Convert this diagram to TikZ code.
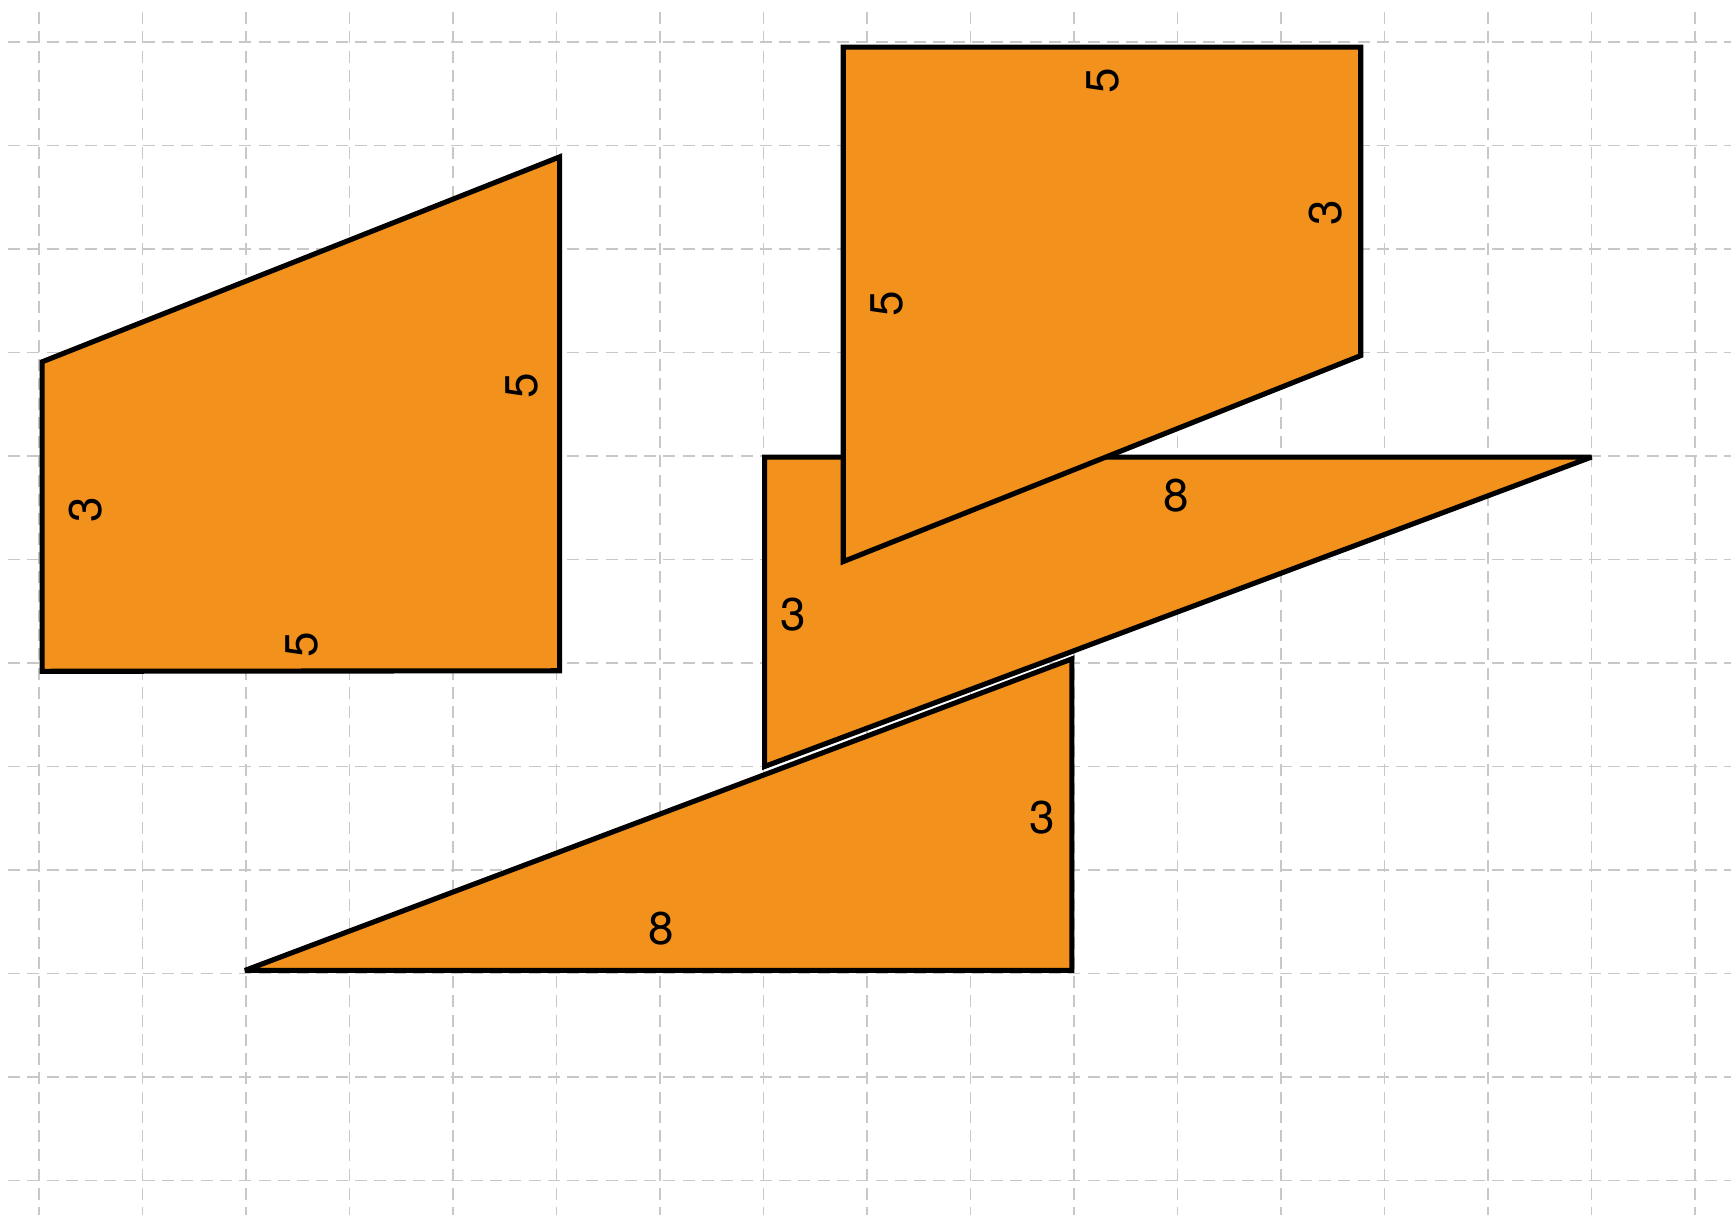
\documentclass[tikz,border=0pt]{standalone}
\usepackage{fontspec}
\setmainfont{TeX Gyre Heros}
\definecolor{shapeorange}{RGB}{242,145,27}
\definecolor{gridgray}{RGB}{200,200,200}
\begin{document}
\begin{tikzpicture}[x=1cm,y=-1cm,
  gridline/.style={draw=gridgray,line width=0.5pt,dash pattern=on 3.3pt off 2pt},
  piece/.style={fill=shapeorange,draw=black,line width=1.4pt,miter limit=2},
  lab/.style={inner sep=0pt,font=\fontsize{12.6}{15}\selectfont},
  vlab/.style={lab,rotate=90}]
\useasboundingbox (-0.377,-0.406) rectangle (16.348,11.333);
\foreach \i in {0,...,16} \draw[gridline] (\i,-0.29) -- (\i,11.4);
\foreach \j in {0,...,11} \draw[gridline] (-0.3,\j) -- (16.4,\j);
% left trapezoid
\draw[piece] (0.03,3.09) -- (5.03,1.11) -- (5.03,6.075) -- (0.03,6.08) -- cycle;
% bottom triangle
\draw[piece] (1.99,8.97) -- (9.98,8.97) -- (9.98,5.96) -- cycle;
% middle triangle
\draw[piece] (7.01,4.01) -- (15.0,4.01) -- (7.01,7.0) -- cycle;
% top right trapezoid
\draw[piece] (7.77,0.05) -- (12.77,0.05) -- (12.77,3.03) -- (7.77,5.02) -- cycle;
% labels
\node[vlab] (l3) at (0.452,4.52) {3};
\node[vlab] (l5r) at (4.667,3.32) {5};
\node[vlab] (l5b) at (2.54,5.82) {5};
\node[vlab] (t5t) at (10.28,0.375) {5};
\node[vlab] (t3r) at (12.43,1.65) {3};
\node[vlab] (t5l) at (8.19,2.53) {5};
\node[lab] (m8) at (10.99,4.38) {8};
\node[lab] (m3) at (7.29,5.53) {3};
\node[lab] (b3) at (9.69,7.49) {3};
\node[lab] (b8) at (6.01,8.57) {8};
\end{tikzpicture}
\end{document}
